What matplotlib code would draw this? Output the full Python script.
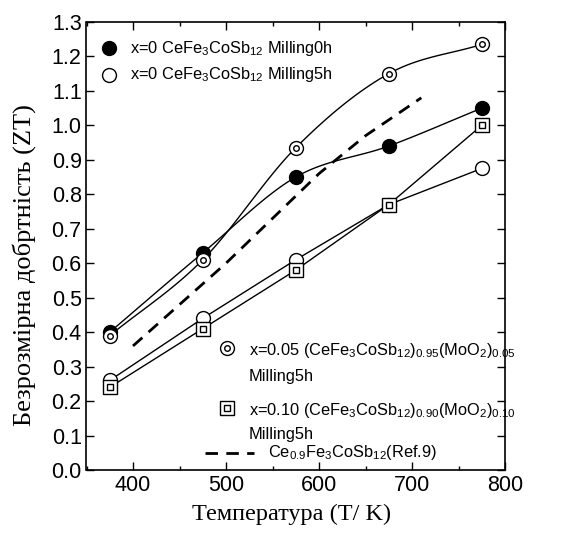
import numpy as np
import matplotlib
matplotlib.use("Agg")
import matplotlib.pyplot as plt
from matplotlib.lines import Line2D

# temperatures (K)
temp = [375, 475, 575, 675, 775]
zt_x0_0h = [0.40, 0.63, 0.85, 0.94, 1.05]
zt_x0_5h = [0.26, 0.44, 0.61, 0.77, 0.875]
zt_x005 = [0.39, 0.61, 0.935, 1.15, 1.235]
zt_x010 = [0.24, 0.41, 0.58, 0.77, 1.0]
ref_t = [400, 450, 500, 550, 600, 650, 710]
ref_zt = [0.36, 0.48, 0.60, 0.73, 0.86, 0.97, 1.08]

SANS = "Liberation Sans"
SERIF = "Liberation Serif"
plt.rcParams["mathtext.fontset"] = "custom"
plt.rcParams["mathtext.rm"] = SANS
plt.rcParams["mathtext.it"] = SANS + ":italic"
plt.rcParams["mathtext.default"] = "regular"

W, H = 561, 534
fig = plt.figure(figsize=(W / 100, H / 100), dpi=100)
ax = fig.add_axes([86.5 / W, 1 - 470 / H, (505 - 86.5) / W, (470 - 22) / H])


def smooth(x, y, n=30):
    # catmull-rom through the points, only for drawing the curve
    x = np.asarray(x, float); y = np.asarray(y, float)
    P = np.column_stack([x, y])
    P = np.vstack([2 * P[0] - P[1], P, 2 * P[-1] - P[-2]])
    out = []
    for i in range(1, len(P) - 2):
        p0, p1, p2, p3 = P[i - 1], P[i], P[i + 1], P[i + 2]
        t = np.linspace(0, 1, n)[:, None]
        c = 0.5 * ((2 * p1) + (-p0 + p2) * t + (2 * p0 - 5 * p1 + 4 * p2 - p3) * t ** 2
                   + (-p0 + 3 * p1 - 3 * p2 + p3) * t ** 3)
        out.append(c)
    c = np.vstack(out)
    return c[:, 0], c[:, 1]


lw = 1.0
DASH = (4.5, 3)
ax.plot(*smooth(temp, zt_x005), color="black", lw=lw)
ax.plot(*smooth(temp, zt_x0_0h), color="black", lw=lw)
ax.plot(temp, zt_x0_5h, color="black", lw=lw)
ax.plot(temp, zt_x010, color="black", lw=lw)
ax.plot(ref_t, ref_zt, color="black", lw=2.0, dashes=DASH)

ms = 10
ax.plot(temp, zt_x0_5h, "o", ms=ms, mfc="white", mec="black", mew=1.0, ls="none")
ax.plot(temp, zt_x010, "s", ms=9.5, mfc="white", mec="black", mew=1.0, ls="none")
ax.plot(temp, zt_x010, "s", ms=4, mfc="white", mec="black", mew=1.0, ls="none")
ax.plot(temp, zt_x0_0h, "o", ms=ms, mfc="black", mec="black", ls="none")
ax.plot(temp, zt_x005, "o", ms=ms, mfc="white", mec="black", mew=1.0, ls="none")
ax.plot(temp, zt_x005, "o", ms=4, mfc="white", mec="black", mew=1.0, ls="none")

ax.set_xlim(350, 800)
ax.set_ylim(0, 1.3)
ax.set_xticks([400, 500, 600, 700, 800])
ax.set_xticks(np.arange(350, 801, 50), minor=True)
ax.set_yticks(np.arange(0, 1.31, 0.1))
ax.set_yticklabels([f"{v:.1f}" for v in np.arange(0, 1.31, 0.1)])
ax.tick_params(which="both", direction="in", top=True, right=True, labelsize=15.5)
ax.tick_params(which="major", length=6, width=1.0)
ax.tick_params(which="minor", length=3, width=1.0)
for lab in ax.get_xticklabels() + ax.get_yticklabels():
    lab.set_fontfamily(SANS)
for s in ax.spines.values():
    s.set_linewidth(1.2)

ax.set_xlabel("Температура (T/ K)", fontfamily=SERIF, fontsize=17.5)
ax.set_ylabel("Безрозмірна добртність (ZT)", fontfamily=SERIF, fontsize=19)
ax.xaxis.set_label_coords(0.49, -0.1)
ax.yaxis.set_label_coords(-0.149, 0.458)
ax.yaxis.label.set_va("center")
ax.xaxis.label.set_va("center")


def fx(x, y):
    return x / W, 1 - y / H


def mark(x, y, **kw):
    X, Y = fx(x, y)
    fig.add_artist(Line2D([X], [Y], transform=fig.transFigure, ls="none", **kw))


def txt(x, y, s):
    X, Y = fx(x, y)
    fig.text(X, Y, s, fontfamily=SANS, fontsize=11.8, va="center", ha="left")


mark(109, 48, marker="o", ms=ms, mfc="black", mec="black")
txt(130, 48, r"x=0 CeFe$_3$CoSb$_{12}$ Milling0h")
mark(109, 75, marker="o", ms=ms, mfc="white", mec="black", mew=1.0)
txt(130, 75, r"x=0 CeFe$_3$CoSb$_{12}$ Milling5h")

mark(227, 348, marker="o", ms=ms, mfc="white", mec="black", mew=1.0)
mark(227, 348, marker="o", ms=4, mfc="white", mec="black", mew=1.0)
txt(249, 350, r"x=0.05 (CeFe$_3$CoSb$_{12}$)$_{0.95}$(MoO$_2$)$_{0.05}$")
txt(249, 376, "Milling5h")
mark(227, 408, marker="s", ms=9.5, mfc="white", mec="black", mew=1.0)
mark(227, 408, marker="s", ms=4, mfc="white", mec="black", mew=1.0)
txt(249, 410, r"x=0.10 (CeFe$_3$CoSb$_{12}$)$_{0.90}$(MoO$_2$)$_{0.10}$")
txt(249, 435, "Milling5h")
X0, Y0 = fx(205, 453)
X1, _ = fx(254, 453)
fig.add_artist(Line2D([X0, X1], [Y0, Y0], transform=fig.transFigure,
                      color="black", lw=2.0, dashes=DASH))
txt(268, 453, r"Ce$_{0.9}$Fe$_3$CoSb$_{12}$(Ref.9)")

fig.savefig("out.png", dpi=100)
